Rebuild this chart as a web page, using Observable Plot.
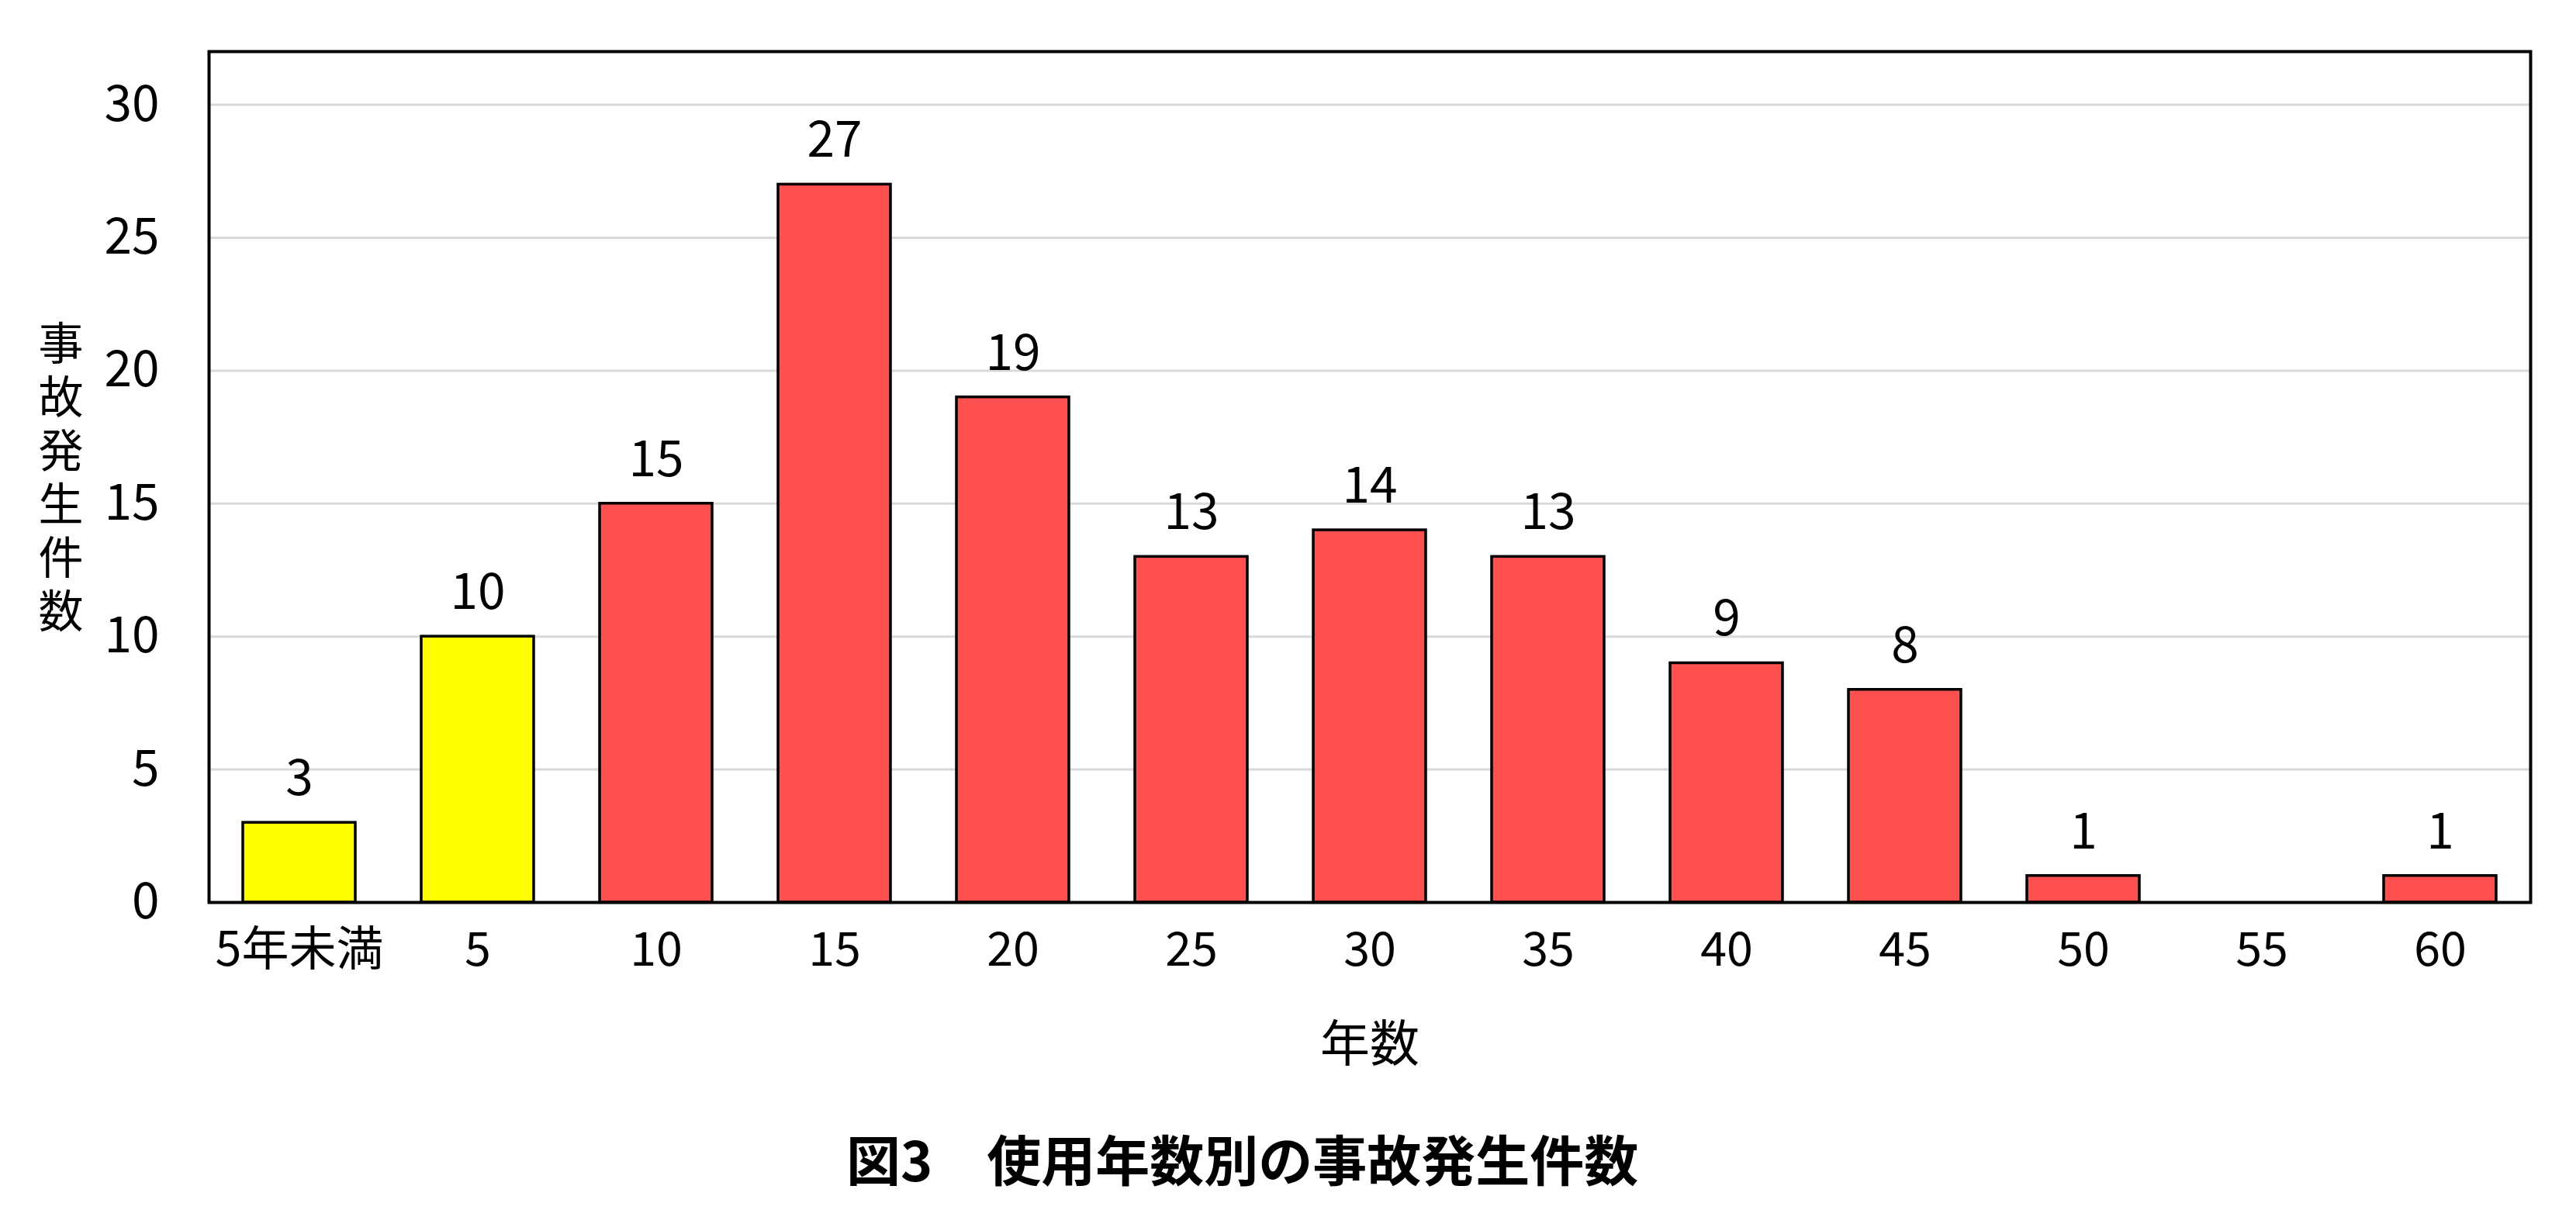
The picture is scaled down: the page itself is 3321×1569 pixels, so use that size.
<!DOCTYPE html>
<html>
<head>
<meta charset="utf-8">
<script src="https://cdn.jsdelivr.net/npm/d3@7"></script>
<script src="https://cdn.jsdelivr.net/npm/@observablehq/plot@0.6"></script>
<style>
  html, body { margin: 0; padding: 0; background: #fff; }
  #wrap { position: relative; width: 3321px; height: 1569px; }
  #caption {
    position: absolute; left: 1091px; top: 1457px;
    font-family: "Noto Sans CJK JP", sans-serif; font-weight: bold;
    font-size: 70px; line-height: 72px; color: #000; white-space: pre;
  }
</style>
</head>
<body>
<div id="wrap">
  <div id="chart"></div>
  <div id="caption"></div>
</div>
<script>
const ages = ["5年未満", "5", "10", "15", "20", "25", "30", "35", "40", "45", "50", "55", "60"];
const counts = [3, 10, 15, 27, 19, 13, 14, 13, 9, 8, 1, 0, 1];
const groups = ["under", "under", "over", "over", "over", "over", "over", "over", "over", "over", "over", "over", "over"];
const yTicks = [0, 5, 10, 15, 20, 25, 30];
const xTitle = "年数";
const yTitle = "事故発生件数";
const captionText = "図3　使用年数別の事故発生件数";

const groupColor = {under: "#FFFF00", over: "#FF5050"};
const data = ages.map((age, i) => ({age, count: counts[i], group: groups[i]}));
const shown = data.filter(d => d.count > 0);

const chart = Plot.plot({
  width: 3321,
  height: 1420,
  marginLeft: 269,
  marginRight: 59,
  marginTop: 66,
  marginBottom: 257,
  style: {fontFamily: "'Noto Sans CJK JP', sans-serif", fontSize: "64px", color: "#000", background: "#fff"},
  x: {domain: ages, paddingInner: 0.37, paddingOuter: 0.185, label: null},
  y: {domain: [0, 32], label: null},
  color: {type: "identity"},
  marks: [
    Plot.gridY(yTicks, {stroke: "#d9d9d9", strokeOpacity: 1, strokeWidth: 3}),
    Plot.barY(shown, {x: "age", y: "count", fill: d => groupColor[d.group], stroke: "#000", strokeWidth: 3.5}),
    Plot.text(shown, {x: "age", y: "count", text: d => String(d.count), dy: -56, lineAnchor: "middle", fontSize: 64, fill: "#000"}),
    Plot.axisY(yTicks, {tickSize: 0, tickPadding: 64, fontSize: 64, label: null, fill: "#000"}),
    Plot.axisX({tickSize: 0, tickPadding: 38, fontSize: 61, label: null, fill: "#000"}),
    Plot.frame({stroke: "#000", strokeWidth: 4}),
    Plot.text([xTitle], {frameAnchor: "bottom", dy: 184, lineAnchor: "middle", fontSize: 64, fill: "#000"}),
    Plot.text([yTitle], {frameAnchor: "left", dx: -191, dy: -14, textAnchor: "middle", fontSize: 58, fill: "#000"})
  ]
});
const yt = Array.from(chart.querySelectorAll("text")).find(t => t.textContent === yTitle);
if (yt) {
  yt.removeAttribute("dy");
  yt.style.writingMode = "vertical-rl";
  yt.style.letterSpacing = "11px";
}
document.getElementById("chart").appendChild(chart);
document.getElementById("caption").textContent = captionText;
</script>
</body>
</html>
